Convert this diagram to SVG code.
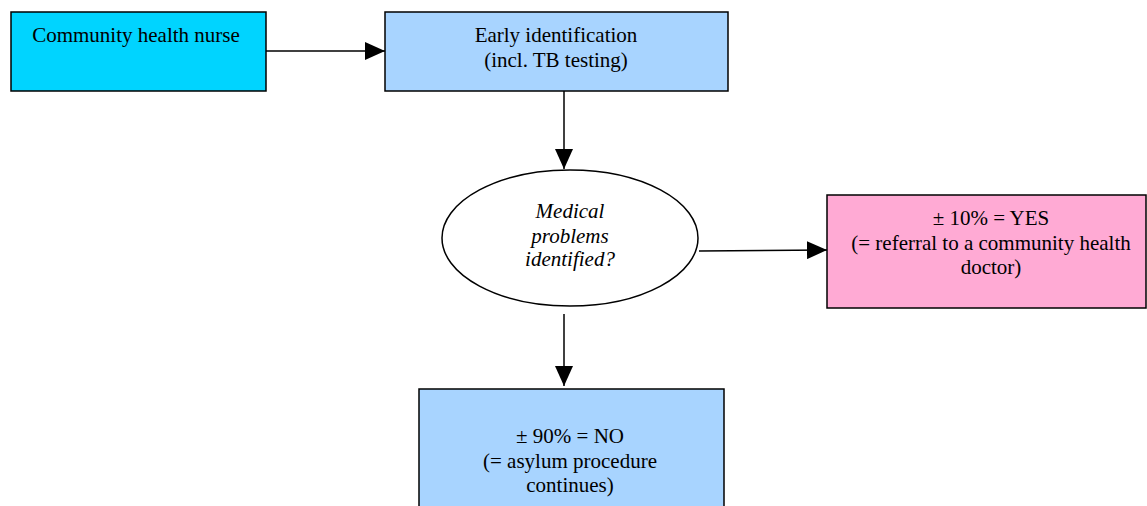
<svg xmlns="http://www.w3.org/2000/svg" width="1147" height="506" viewBox="0 0 1147 506">
<style>
.box{stroke:#000;stroke-width:1.5}
.t{font-family:"Liberation Serif","Times New Roman",serif;font-size:21px;fill:#000;text-anchor:middle}
.i{font-style:italic}
.c{stroke:#000;stroke-width:1.5;fill:none}
</style>
<defs>
<marker id="ah" markerWidth="20" markerHeight="18" refX="20" refY="9" orient="auto" markerUnits="userSpaceOnUse">
<path d="M0,0 L20,9 L0,18 Z" fill="#000"/>
</marker>
</defs>
<rect width="1147" height="506" fill="#fff"/>
<g id="connectors">
<line class="c" x1="266" y1="51" x2="385" y2="51" marker-end="url(#ah)"/>
<line class="c" x1="564" y1="91" x2="564" y2="169" marker-end="url(#ah)"/>
<line class="c" x1="699" y1="251" x2="827" y2="250" marker-end="url(#ah)"/>
<line class="c" x1="564" y1="314" x2="564" y2="386" marker-end="url(#ah)"/>
</g>
<g id="nurse">
<rect class="box" x="11" y="12" width="255" height="79" fill="#00d4ff"/>
<text class="t" x="136" y="42">Community health nurse</text>
</g>
<g id="early">
<rect class="box" x="385" y="12" width="343" height="79" fill="#a8d4ff"/>
<text class="t" x="556" y="42">Early identification</text>
<text class="t" x="556" y="67">(incl. TB testing)</text>
</g>
<g id="medical">
<ellipse cx="570" cy="238" rx="128" ry="68" fill="#fff" stroke="#000" stroke-width="1.5"/>
<text class="t i" x="570" y="218">Medical</text>
<text class="t i" x="570" y="243">problems</text>
<text class="t i" x="570" y="266">identified?</text>
</g>
<g id="yes">
<rect class="box" x="827" y="195" width="319" height="113" fill="#ffaad4"/>
<text class="t" x="991" y="225">± 10% = YES</text>
<text class="t" x="991" y="250">(= referral to a community health</text>
<text class="t" x="991" y="274">doctor)</text>
</g>
<g id="no">
<rect class="box" x="419" y="389" width="305" height="130" fill="#a8d4ff"/>
<text class="t" x="570" y="443">± 90% = NO</text>
<text class="t" x="570" y="468">(= asylum procedure</text>
<text class="t" x="570" y="492">continues)</text>
</g>
</svg>
